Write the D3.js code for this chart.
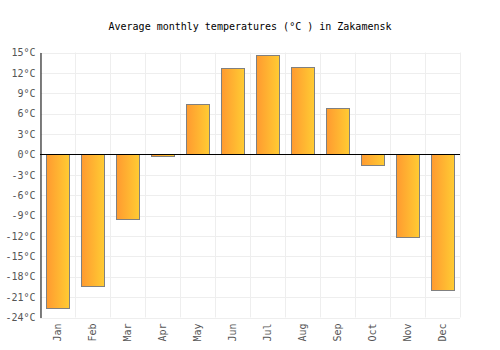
<!DOCTYPE html>
<html>
<head>
<meta charset="utf-8">
<script src="https://cdn.jsdelivr.net/npm/d3@7"></script>
<style>
body { margin: 0; background: #fff; }
text { font-family: "DejaVu Sans Mono", monospace; }
</style>
</head>
<body>
<div id="chart"></div>
<script>
var months = ["Jan","Feb","Mar","Apr","May","Jun","Jul","Aug","Sep","Oct","Nov","Dec"];
var temps = [-22.6, -19.4, -9.5, -0.2, 7.4, 12.7, 14.7, 12.8, 6.8, -1.5, -12.2, -20.0];
var yTicks = [15, 12, 9, 6, 3, 0, -3, -6, -9, -12, -15, -18, -21, -24];

var margin = {top: 52.5, bottom: 32.5, left: 40, right: 40};
var width = 500, height = 350;

var svg = d3.select("#chart").append("svg")
    .attr("width", width)
    .attr("height", height);

var defs = svg.append("defs");
var grad = defs.append("linearGradient").attr("id", "barGrad")
    .attr("x1", "0%").attr("x2", "100%").attr("y1", "0%").attr("y2", "0%");
grad.append("stop").attr("offset", "0%").attr("stop-color", "#ff9a30");
grad.append("stop").attr("offset", "100%").attr("stop-color", "#ffcc33");

var xScale = d3.scaleBand().domain(months)
    .range([margin.left, width - margin.right])
    .paddingInner(0).paddingOuter(0);
var yScale = d3.scaleLinear().domain([-24, 15])
    .range([height - margin.bottom, margin.top]);

// grid
var grid = svg.append("g");
grid.selectAll("line.h").data(yTicks).enter().append("line")
    .attr("x1", margin.left).attr("x2", width - margin.right)
    .attr("y1", function(d){ return Math.round(yScale(d)) + 0.5; })
    .attr("y2", function(d){ return Math.round(yScale(d)) + 0.5; })
    .attr("stroke", "#eeeeee");
var vx = months.map(function(m){ return xScale(m); }).concat([width - margin.right]);
grid.selectAll("line.v").data(vx).enter().append("line")
    .attr("x1", function(d){ return Math.round(d) + 0.5; })
    .attr("x2", function(d){ return Math.round(d) + 0.5; })
    .attr("y1", margin.top).attr("y2", height - margin.bottom)
    .attr("stroke", "#eeeeee");

// bars
svg.selectAll("rect.bar").data(temps).enter().append("rect")
    .attr("x", function(d, i){ return Math.round(xScale(months[i]) + 6) + 0.5; })
    .attr("width", 23)
    .attr("y", function(d){ return Math.round(yScale(Math.max(0, d))) + 0.5; })
    .attr("height", function(d){ return Math.abs(Math.round(yScale(d)) - Math.round(yScale(0))); })
    .attr("fill", "url(#barGrad)")
    .attr("stroke", "#808080")
    .attr("stroke-width", 1);

// y axis
var yAxis = d3.axisLeft(yScale).tickValues(yTicks)
    .tickSize(0).tickPadding(5)
    .tickFormat(function(d){ return d + "°C"; });
var ga = svg.append("g")
    .attr("transform", "translate(" + (margin.left + 0.5) + ",0)")
    .call(yAxis);
ga.select(".domain").attr("stroke", "#000");
ga.selectAll("text").attr("fill", "#555").style("font-size", "10px");

// zero line
svg.append("line")
    .attr("x1", margin.left).attr("x2", width - margin.right)
    .attr("y1", Math.round(yScale(0)) + 0.5).attr("y2", Math.round(yScale(0)) + 0.5)
    .attr("stroke", "#000");

// x labels
var xAxis = d3.axisBottom(xScale).tickSize(0).tickPadding(0);
var gx = svg.append("g")
    .attr("transform", "translate(0," + (height - margin.bottom) + ")")
    .call(xAxis);
gx.select(".domain").remove();
gx.selectAll("text")
    .attr("fill", "#555").style("font-size", "10px")
    .attr("text-anchor", "end")
    .attr("dy", "0.35em")
    .attr("transform", "translate(0,6) rotate(-90)")
    .attr("x", 0).attr("y", 0);

// title
svg.append("text")
    .attr("x", width / 2).attr("y", 30)
    .attr("text-anchor", "middle")
    .style("font-size", "10px")
    .attr("fill", "#000")
    .text("Average monthly temperatures (°C ) in Zakamensk");
</script>
</body>
</html>
